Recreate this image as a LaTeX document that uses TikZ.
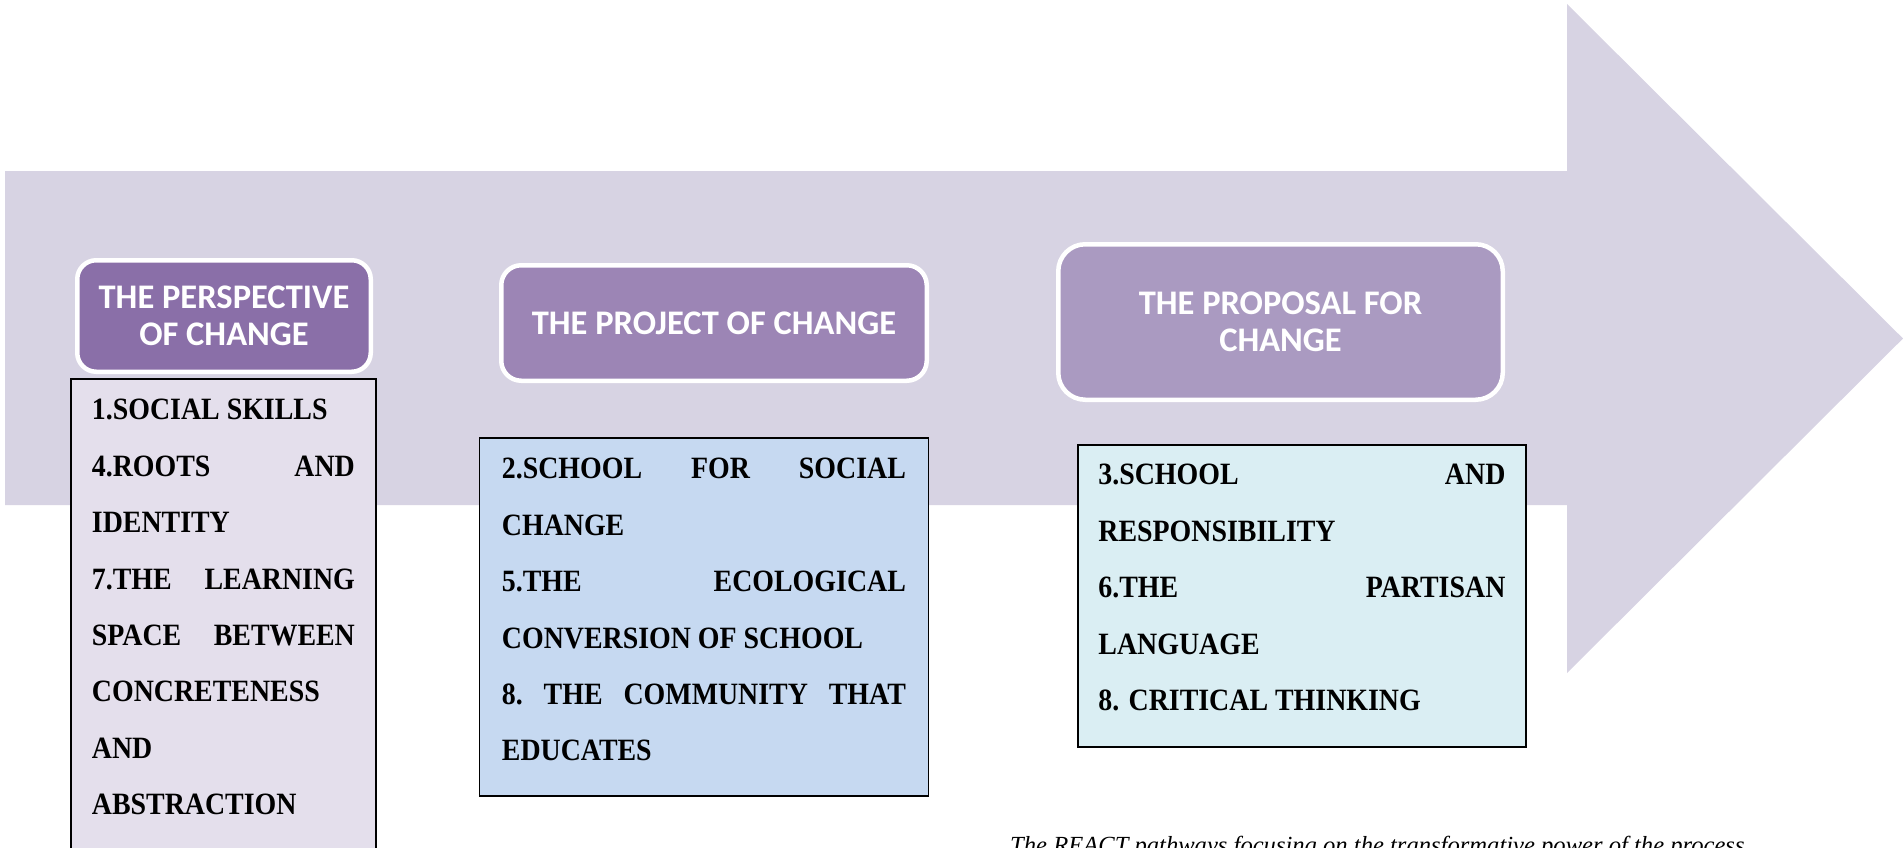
\documentclass[tikz,border=0pt]{standalone}
\usepackage{fontspec}
\setmainfont{Liberation Serif}
\newfontfamily\headfont{Carlito}
\newfontfamily\bodyfont{Liberation Serif}[FakeStretch=0.9]
\newfontfamily\notefont{Liberation Serif}

\definecolor{arrowbg}{HTML}{D7D3E3}
\definecolor{headA}{HTML}{8A6FA8}
\definecolor{headB}{HTML}{9C85B5}
\definecolor{headC}{HTML}{AA9AC1}
\definecolor{itemA}{HTML}{E4DFEC}
\definecolor{itemB}{HTML}{C6D9F1}
\definecolor{itemC}{HTML}{DAEEF3}

% a line stretched to the full text width (justified line):
% the word spaces get infinite stretch so they share the free room evenly
\newcommand\fullline[1]{{\spaceskip=.25em plus 1fil\relax
  \xspaceskip=\spaceskip
  \makebox[\linewidth][s]{#1}}}

\begin{document}
\begin{tikzpicture}[x=1pt,y=-1pt,
  header/.style={draw=white, line width=4.5pt, text=white, align=center,
    inner sep=0pt, font=\headfont\bfseries\fontsize{34.5}{37}\selectfont},
  itembox/.style={draw=black, line width=1.8pt, anchor=north west,
    inner ysep=0pt, align=justify, text=black,
    font=\bodyfont\bfseries\fontsize{31}{56.4}\selectfont},
  note/.style={anchor=base west, inner sep=0pt,
    font=\notefont\itshape\fontsize{24.6}{28}\selectfont}
]
\useasboundingbox (0,0) rectangle (1903,848);

% the large background arrow
\fill[arrowbg] (5,171) -- (1567,171) -- (1567,4) -- (1903,338.5)
  -- (1567,673) -- (1567,505) -- (5,505) -- cycle;

% stage headers
\node[header, fill=headA, rounded corners=19pt,
  minimum width=293.5pt, minimum height=111.5pt] (h1) at (224,316)
  {THE PERSPECTIVE\\OF CHANGE};
\node[header, fill=headB, rounded corners=20pt,
  minimum width=425.5pt, minimum height=115.5pt] (h2) at (714,323)
  {THE PROJECT OF CHANGE};
\node[header, fill=headC, rounded corners=27pt,
  minimum width=444.5pt, minimum height=155.5pt] (h3) at (1280.5,322)
  {\fontsize{34.5}{36}\selectfont THE PROPOSAL FOR\\CHANGE};

% item lists
\node[itembox, fill=itemA, inner xsep=21pt, text width=263pt,
  text height=41pt, text depth=482pt] (b1) at (70,378)
  {1.SOCIAL SKILLS\\
   \fullline{4.ROOTS AND}\\
   IDENTITY\\
   \fullline{7.THE LEARNING}\\
   \fullline{SPACE BETWEEN}\\
   CONCRETENESS\\
   AND\\
   ABSTRACTION};
\node[itembox, fill=itemB, inner xsep=22.5pt, text width=404pt,
  text height=41pt, text depth=317pt] (b2) at (478.5,437)
  {\fullline{2.SCHOOL FOR SOCIAL}\\
   CHANGE\\
   \fullline{5.THE ECOLOGICAL}\\
   CONVERSION OF SCHOOL\\
   \fullline{8. THE COMMUNITY THAT}\\
   EDUCATES};
\node[itembox, fill=itemC, inner xsep=20.5pt, text width=407pt,
  text height=40pt, text depth=262pt] (b3) at (1077,444)
  {\fullline{3.SCHOOL AND}\\
   RESPONSIBILITY\\
   \fullline{6.THE PARTISAN}\\
   LANGUAGE\\
   8. CRITICAL THINKING};

% caption
\node[note] (cap) at (1010,853)
  {The REACT pathways focusing on the transformative power of the process};
\end{tikzpicture}
\end{document}
